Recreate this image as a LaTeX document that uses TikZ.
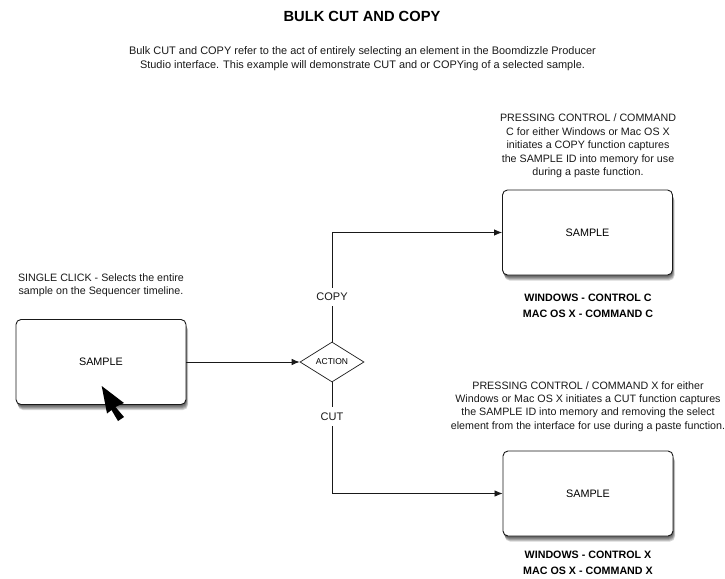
\documentclass[tikz,border=0pt]{standalone}
\usepackage{fontspec}
\setmainfont{Liberation Sans}
\usetikzlibrary{arrows.meta,shapes.geometric}
\tikzset{
  x=1pt,y=-1pt,
  sh/.style={preaction={draw=none,fill=black,fill opacity=.16,transform canvas={xshift=#1*.4pt,yshift=-#1pt-.5pt}}},
  samplebox/.style={draw=black!90,line width=.9pt,fill=white,rounded corners=5pt,minimum width=170pt,minimum height=85pt,font=\fontsize{10.8}{13}\selectfont,
    sh=0,sh=1,sh=2,sh=3,sh=4,sh=5},
  txt/.style={align=center,font=\fontsize{10.7}{13.4}\selectfont,text=black!90,inner sep=0pt},
  introtxt/.style={txt,font=\fontsize{10.95}{14}\selectfont},
  hd/.style={align=center,font=\fontsize{10.7}{16.5}\selectfont\bfseries,text=black,inner sep=0pt},
  conn/.style={draw=black!90,line width=.8pt},
  arr/.style={conn,-{Latex[length=8pt,width=6.5pt]}},
  lab/.style={font=\fontsize{11}{13}\selectfont,fill=white,inner xsep=2pt,inner ysep=5.5pt,text=black!90},
}
\begin{document}
\begin{tikzpicture}
\useasboundingbox (0,0) rectangle (725,578);
\node[inner sep=0pt,font=\fontsize{14.7}{18}\selectfont\bfseries] (title) at (362,16) {BULK CUT AND COPY};
\node[introtxt] (intro) at (362.5,58.5) {Bulk CUT and COPY refer to the act of entirely selecting an element in the Boomdizzle Producer\\Studio interface. This example will demonstrate CUT and or COPYing of a selected sample.};
\node[samplebox] (a) at (101,362) {SAMPLE};
\node[samplebox] (b) at (587.5,232.5) {SAMPLE};
\node[samplebox] (c) at (588,493.5) {SAMPLE};
\node[diamond,draw=black!90,line width=.7pt,fill=white,inner sep=0pt,minimum width=64pt,minimum height=40pt,font=\fontsize{8.5}{10}\selectfont] (d) at (332,362) {ACTION};
\draw[arr] (a) -- (d);
\coordinate (ct) at (d.north |- b.west);
\coordinate (cb) at (d.south |- c.west);
\draw[arr] (d.north) -- (ct) -- (b.west);
\draw[arr] (d.south) -- (cb) -- (c.west);
\node[lab] (copy) at (332,297) {COPY};
\node[lab] (cut) at (332,416.5) {CUT};
\node[txt] (t1) at (101,285.5) {SINGLE CLICK - Selects the entire\\sample on the Sequencer timeline.};
\node[txt] (t2) at (588,146) {PRESSING CONTROL / COMMAND\\C for either Windows or Mac OS X\\initiates a COPY function captures\\the SAMPLE ID into memory for use\\during a paste function.};
\node[txt] (t3) at (588,406.5) {PRESSING CONTROL / COMMAND X for either\\Windows or Mac OS X initiates a CUT function captures\\the SAMPLE ID into memory and removing the select\\element from the interface for use during a paste function.};
\node[hd] (h1) at (588,306) {WINDOWS - CONTROL C\\MAC OS X - COMMAND C};
\node[hd] (h2) at (588,563) {WINDOWS - CONTROL X\\MAC OS X - COMMAND X};
\fill[black] (101.7,386) -- (124,403) -- (115.5,407) -- (124,417) -- (118,421) -- (111.5,410) -- (107,413.5) -- cycle;
\end{tikzpicture}
\end{document}
